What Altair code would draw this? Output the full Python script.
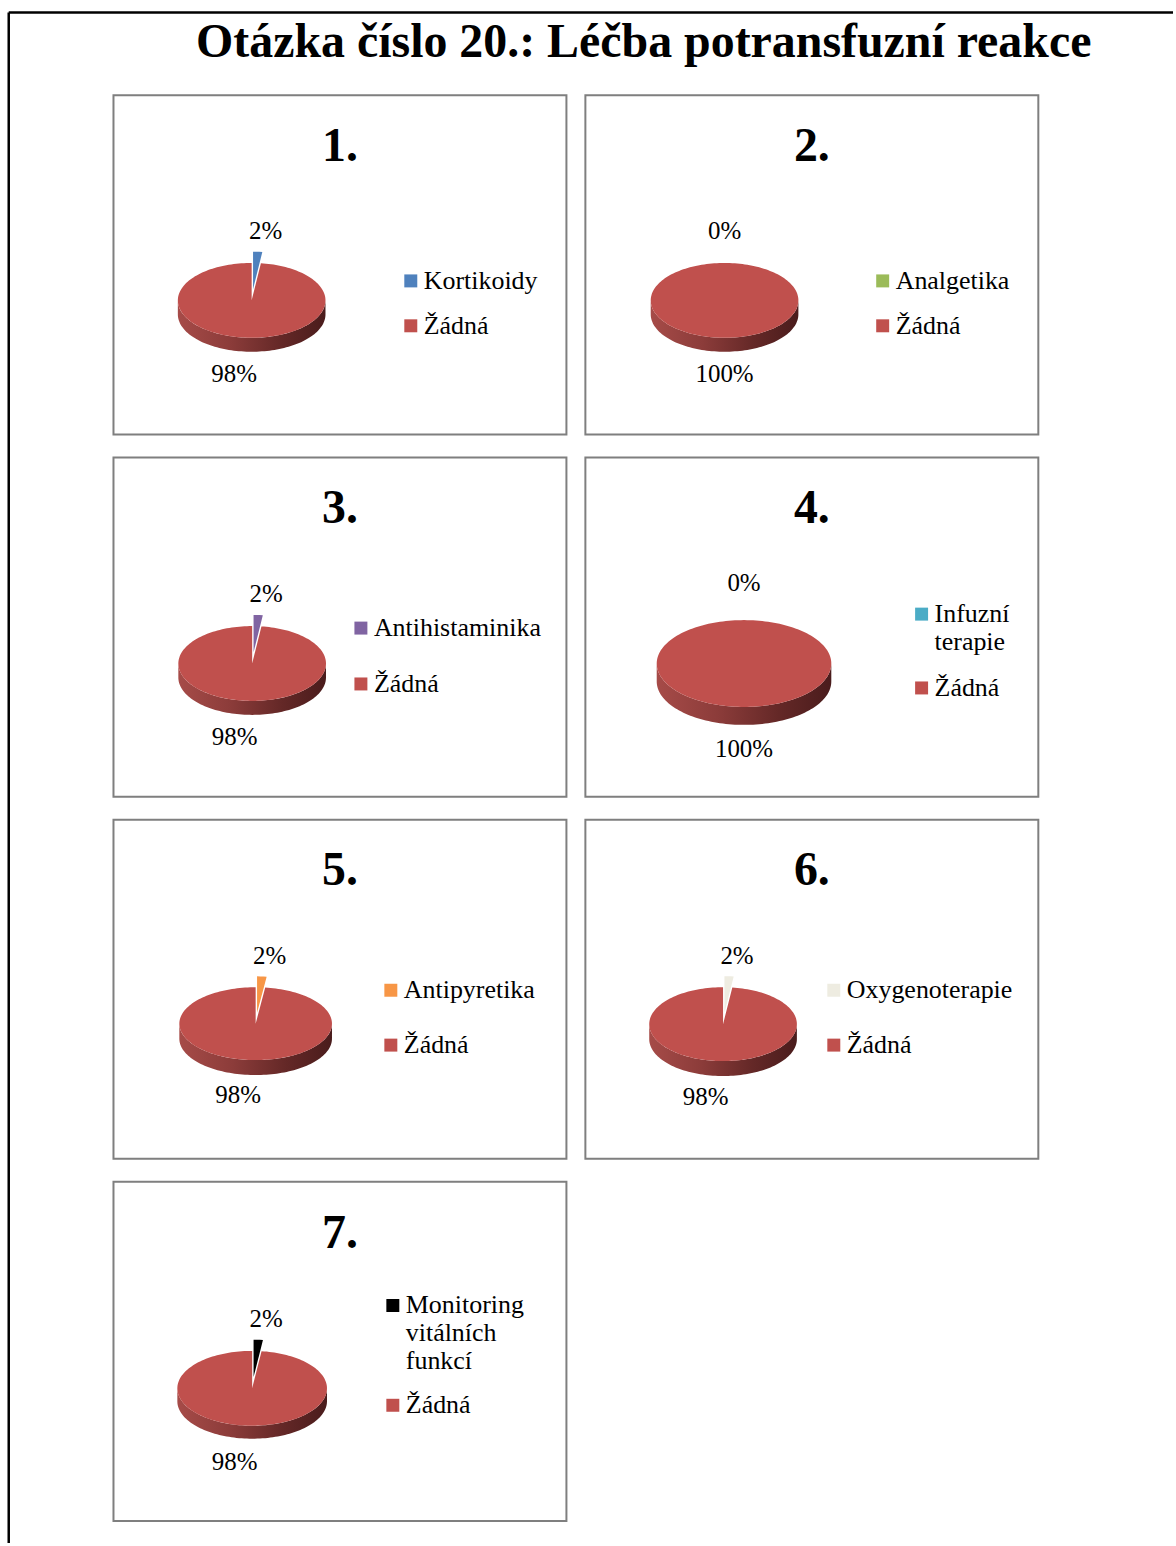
import math
import altair as alt
import pandas as pd

# ---------------- data ----------------
TITLE = "Otázka číslo 20.: Léčba potransfuzní reakce"
panel_labels = ["1.", "2.", "3.", "4.", "5.", "6.", "7."]
treatments = ["Kortikoidy", "Analgetika", "Antihistaminika", "Infuzní terapie",
              "Antipyretika", "Oxygenoterapie", "Monitoring vitálních funkcí"]
treatment_pct = [2, 0, 2, 0, 2, 2, 2]
none_label = "Žádná"
none_pct = [98, 100, 98, 100, 98, 98, 98]
treatment_colors = ["#4F81BD", "#9BBB59", "#8064A2", "#4BACC6", "#F79646", "#EEECE1", "#000000"]
none_color = "#C0504D"

# ---------------- layout / style ----------------
FONT = "Liberation Serif"
PANEL_W, PANEL_H = 454, 340
# pie centre x, centre y, radius x, radius y, depth (panel pixel units)
PIE = [(138.5, 205.5, 74, 37.5, 14), (139.5, 205.5, 74, 37.5, 14),
       (139, 206.5, 74, 37.5, 14), (159, 206.5, 87.5, 43.5, 18),
       (142.5, 204.5, 76.5, 36.5, 15), (138, 205, 74, 37, 15),
       (139, 207, 75, 37.5, 13)]
# legend: symbol left, centre y of first entry, centre y of second entry
LEG = [(291, 186, 231), (291, 186, 231), (241, 171, 227), (330, 157, 231),
       (271, 171, 226), (242, 171, 226), (273, 124, 224)]
LEG_FONT = 26
LEG_LINE = 28
EXPLODE = 0.3
SIDE_FILL = alt.LinearGradient(
    gradient="linear", x1=0, x2=1, y1=0, y2=0,
    stops=[alt.GradientStop(color="#a64b48", offset=0),
           alt.GradientStop(color="#8c3c3a", offset=0.35),
           alt.GradientStop(color="#642827", offset=0.7),
           alt.GradientStop(color="#4a1c1c", offset=1)])


def geometry(i):
    cats = [treatments[i], none_label]
    vals = [treatment_pct[i], none_pct[i]]
    cx, cy, a, b, d = PIE[i]
    faces, sides, labels = [], [], []
    start = 0.0
    for k, (c, v) in enumerate(zip(cats, vals)):
        t0 = start
        t1 = start + 360.0 * v / 100.0
        start = t1
        m = math.radians((t0 + t1) / 2)
        s, co = math.sin(m), math.cos(m)
        e = EXPLODE if (k == 0 and v > 0) else 0.0
        ox, oy = a * e * s, -b * e * co
        lx = cx + (14 if s > 1e-6 else (-17.5 if s < -1e-6 else 0))
        ly = cy - co * b * (1.86 if co > 0 else 1.97)
        labels.append({"txt": f"{v}%", "x": lx, "y": ly})
        if v == 0:
            continue
        n = max(2, int(abs(t1 - t0) / 2) + 1)
        ts = [t0 + (t1 - t0) * j / (n - 1) for j in range(n)]
        pts = [(cx + ox, cy + oy)] + [
            (cx + ox + a * math.sin(math.radians(t)), cy + oy - b * math.cos(math.radians(t)))
            for t in ts]
        for j, (x, y) in enumerate(pts):
            faces.append({"poly": c, "cat": c, "i": j, "x": x, "y": y})
        lo, hi = max(t0, 90.0), min(t1, 270.0)
        if hi > lo:
            n2 = max(2, int((hi - lo) / 2) + 1)
            ts2 = [lo + (hi - lo) * j / (n2 - 1) for j in range(n2)]
            top = [(cx + ox + a * math.sin(math.radians(t)), cy + oy - b * math.cos(math.radians(t)))
                   for t in ts2]
            ring = top + [(x, y + d) for (x, y) in reversed(top)]
            for j, (x, y) in enumerate(ring):
                sides.append({"poly": c, "i": j, "x": x, "y": y})
    return cats, pd.DataFrame(faces), pd.DataFrame(sides), pd.DataFrame(labels)


blank = pd.DataFrame({"k": [0]})


def page_decor():
    # page title and page border, positioned relative to the first panel
    return [
        alt.Chart(blank).mark_text(text=TITLE, font=FONT, fontSize=48, fontWeight="bold", color="black",
                                   align="center", baseline="alphabetic").encode(
            x=alt.value(531.5), y=alt.value(-38)),
        alt.Chart(blank).mark_rule(color="black", strokeWidth=2.5).encode(
            x=alt.value(-105), y=alt.value(-83), y2=alt.value(1451)),
        alt.Chart(blank).mark_rule(color="black", strokeWidth=2.5).encode(
            x=alt.value(-105), x2=alt.value(1062), y=alt.value(-83)),
    ]


def panel(i):
    cats, faces, sides, labels = geometry(i)
    colors = [treatment_colors[i], none_color]
    X = alt.X("x:Q", scale=alt.Scale(domain=[0, PANEL_W], nice=False, zero=False), axis=None)
    Y = alt.Y("y:Q", scale=alt.Scale(domain=[0, PANEL_H], nice=False, zero=False, reverse=True), axis=None)
    lgx, ly1, ly2 = LEG[i]
    nlines = len(treatments[i].split(" "))
    first_h = LEG_FONT + LEG_LINE * (nlines - 1)
    side = alt.Chart(sides).mark_line(fill=SIDE_FILL, stroke="transparent", strokeWidth=0).encode(
        x=X, y=Y, order=alt.Order("i:Q"), detail="poly:N")
    top = alt.Chart(faces).mark_line(filled=True, strokeWidth=0).encode(
        x=X, y=Y, order=alt.Order("i:Q"), detail="poly:N",
        color=alt.Color("cat:N", scale=alt.Scale(domain=cats, range=colors),
                        legend=alt.Legend(title=None, orient="none", legendX=lgx - 6,
                                          legendY=ly1 - LEG_FONT / 2,
                                          direction="vertical", symbolType="square", symbolSize=169,
                                          symbolStrokeWidth=0, labelFont=FONT, labelFontSize=LEG_FONT,
                                          labelColor="black", labelOffset=0,
                                          rowPadding=(ly2 - ly1) - first_h, labelLimit=400, padding=0,
                                          labelExpr="split(datum.label, ' ')")))
    txt = alt.Chart(labels).mark_text(font=FONT, fontSize=25, color="black",
                                      baseline="middle", align="center").encode(x=X, y=Y, text="txt:N")
    num = alt.Chart(pd.DataFrame({"t": [panel_labels[i]]})).mark_text(
        font=FONT, fontSize=48, fontWeight="bold", color="black", align="center",
        baseline="alphabetic").encode(x=alt.value(PANEL_W / 2), y=alt.value(66), text="t:N")
    layers = [side, top, txt, num]
    if i == 0:
        layers += page_decor()
    return alt.layer(*layers).properties(
        width=PANEL_W, height=PANEL_H,
        view=alt.ViewBackground(stroke="#7f7f7f", strokeWidth=2))


panels = [panel(i) for i in range(7)]
chart = alt.concat(
    *panels, columns=2, spacing={"row": 23, "column": 19}, bounds="flush",
).resolve_scale(color="independent", x="independent", y="independent").resolve_legend(
    color="independent").properties(
    padding={"left": 5.75, "top": 7.75, "right": 0, "bottom": 0}
).configure_view(stroke="#7f7f7f", strokeWidth=2).configure(background="white")

chart.save("out.html", embed_options={"renderer": "svg", "actions": False})
